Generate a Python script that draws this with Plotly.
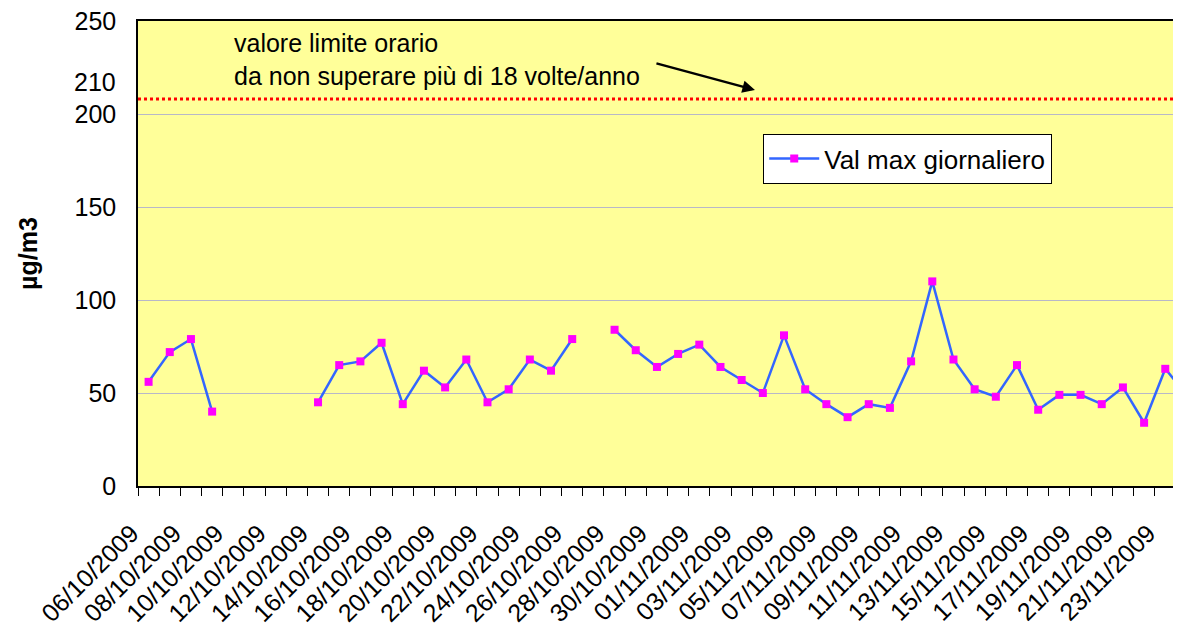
import pandas as pd
import plotly.graph_objects as go

# daily max values (µg/m3), 06/10/2009 -> 24/11/2009, None = missing day
start_day = "2009-10-06"
val_max = [56, 72, 79, 40, None, None, None, None, 45, 65,
           67, 77, 44, 62, 53, 68, 45, 52, 68, 62,
           79, None, 84, 73, 64, 71, 76, 64, 57, 50,
           81, 52, 44, 37, 44, 42, 67, 110, 68, 52,
           48, 65, 41, 49, 49, 44, 53, 34, 63, 49]
days = pd.date_range(start_day, periods=len(val_max), freq="D")

limit_value = 208          # dotted "valore limite" line as drawn
limit_label = "210"
series_name = "Val max giornaliero"
note_text = "valore limite orario<br>da non superare più di 18 volte/anno"
y_title = "µg/m3"

FONT = "Liberation Sans, Arial, sans-serif"
DAY_MS = 86400000

fig = go.Figure()
fig.add_trace(go.Scatter(
    x=days, y=val_max, name=series_name, mode="lines+markers",
    line=dict(color="#3366ff", width=2.5),
    marker=dict(symbol="square", size=8, color="#ff00ff"),
    connectgaps=False, showlegend=True,
))

fig.add_hline(y=limit_value, line=dict(color="#ff0000", width=3, dash="dot"))

# x range: half a day before first category; right side runs past the window
x_lo = days[0] - pd.Timedelta(hours=12)
x_hi = days[0] + pd.Timedelta(days=49.12)

fig.update_layout(
    width=1181, height=627,
    margin=dict(l=130, r=0, t=13, b=149, autoexpand=False),
    paper_bgcolor="white", plot_bgcolor="#ffff99",
    font=dict(family=FONT, size=25, color="black"),
    showlegend=True,
    legend=dict(x=0.5947, y=0.757, xanchor="left", yanchor="top",
                bgcolor="white", bordercolor="black", borderwidth=1.2,
                itemwidth=50, font=dict(size=26)),
    xaxis=dict(
        type="date", range=[x_lo, x_hi], automargin=False,
        tick0=start_day, dtick=2 * DAY_MS, tickformat="%d/%m/%Y",
        tickangle=-45, ticks="", ticklabelstandoff=21, ticklabelshift=-17,
        ticklabeloverflow="allow",
        showgrid=False, zeroline=False,
        showline=True, linecolor="black", linewidth=1.5, mirror=True,
        minor=dict(ticks="outside", ticklen=8, tickcolor="black", tickwidth=1.2,
                   tick0=x_lo, dtick=DAY_MS, showgrid=False),
        tickfont=dict(size=25),
    ),
    xaxis2=dict(
        type="date", overlaying="x", matches="x", anchor="y", side="bottom",
        automargin=False,
        showticklabels=False, showgrid=False, zeroline=False, showline=False,
        ticks="inside", ticklen=8, tickcolor="black", tickwidth=1.2,
        tick0=x_lo, dtick=DAY_MS,
    ),
    yaxis=dict(
        range=[0, 250], dtick=50, ticks="", ticklabelstandoff=15,
        ticklabeloverflow="allow",
        showgrid=True, gridcolor="#b8b8c8", gridwidth=1, zeroline=False,
        showline=True, linecolor="black", linewidth=1.5,
        tickfont=dict(size=25),
        title=dict(text="<b>" + y_title + "</b>", font=dict(size=25), standoff=30),
        automargin=False,
    ),
)

# text note and arrow pointing to the limit line
fig.add_annotation(xref="paper", yref="paper", x=0.0894, y=0.918,
                   xanchor="left", yanchor="middle", align="left",
                   text=note_text, showarrow=False, font=dict(size=25))
fig.add_annotation(xref="paper", yref="paper", x=0.587, y=0.8516, text="",
                   showarrow=True, ax=-100, ay=-27, arrowhead=2, arrowsize=1,
                   arrowwidth=2.5, arrowcolor="black")
# extra "210" tick label on the left
fig.add_annotation(xref="paper", yref="y", x=-0.019, y=217, xanchor="right",
                   yanchor="middle", text=limit_label, showarrow=False,
                   font=dict(size=25))

fig.write_html("out.html")
